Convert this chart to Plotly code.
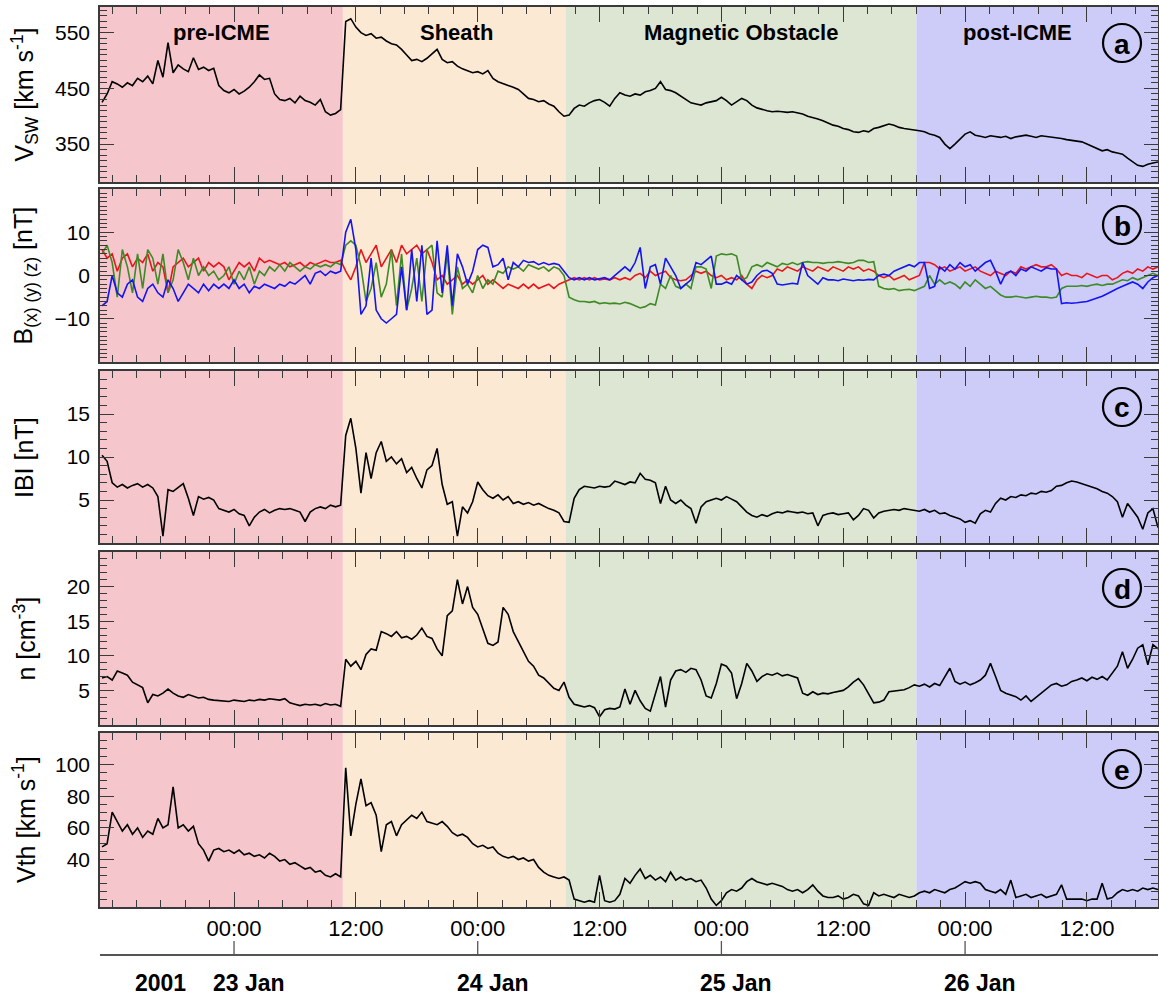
import numpy as np
import plotly.graph_objects as go

# ---------------- data (hours since 2001-01-23 00:00 UT, 30-min samples) -------------
t_start = -13.0
t_step = 0.5

vsw = [425,440,462,458,452,460,455,468,462,472,458,500,470,532,478,492,485,480,505,484,488,482,486,455,
       446,442,448,440,445,452,462,474,466,468,440,430,428,432,424,436,428,425,420,430,408,402,405,412,
       570,575,560,550,545,548,540,542,535,530,528,520,510,500,502,498,504,512,520,502,496,498,490,485,
       482,478,480,476,482,468,462,458,455,452,448,440,432,430,426,428,422,418,408,400,402,414,420,418,
       424,428,430,425,418,432,442,438,436,440,438,444,446,450,462,448,446,442,436,430,424,422,420,424,
       426,428,434,428,420,426,432,428,420,415,412,410,408,409,408,407,408,406,404,400,398,395,392,388,
       384,382,378,376,372,371,374,372,378,380,383,386,384,380,378,377,376,374,372,368,366,362,350,342,
       350,360,368,372,366,364,362,365,363,362,364,360,363,365,366,364,362,365,364,363,362,360,358,357,
       356,354,350,346,342,338,340,336,334,332,325,318,312,310,314,316,318]

bx = [6,4,5,1,4,5,2,4,3,5,1,3,2,-4,2,3,4,2,3,4,1,3,2,3,
      2,-1,1,3,2,3,1,4,3,3.5,3,2.5,3,2,2.5,3,2,3,2.5,3,3.5,3,3,3.5,
      1,-1,2,6,3,5,7,2,4,6,3,7,5,6,7,5,6,3,-1,0,-2,-1,0,-2,
      -1,-2,-1,0,-2,-1,-2,-3,-2,-2.5,-3,-2,-3,-2,-3,-2.5,-2,-3,-2,-1.5,-1,-0.5,-1,-0.5,
      -1,-0.5,-1,-0.8,-1,-0.5,-1,-0.5,-1,0,0.5,-0.5,1,0,0.5,1,-0.5,-1,-1.2,-1,0,1,0.5,1,
      0,-0.5,0,-1,-0.5,-1,0,-2,-3,-1,0,-0.5,0,1.5,1,2,1.5,1,2,1.5,1,2,1.5,1,
      2,1.5,1,2,1.5,2,1,1.5,1,0,-0.5,0,-1,-0.5,0,-1,-0.5,0,3,3,2.5,1.5,2,1,
      1.5,2,1,1.5,2,1,0.5,0,1,0.5,0,1,0.5,2,1.5,2,2.5,2,2,2.5,1.5,0,0.5,0,
      0,-0.5,0.5,0,-0.5,0,0,-1,-0.5,0.5,1,0.5,1.5,1,2,1.5,2]

by = [5,7,3,-5,6,2,-4,5,-3,6,4,-2,5,-4,-1,6,3,-1,4,0,2,0,1,-1,
      0,2,-2,1,-1,2,-2,1,0,2,1,2.5,1,3,2,1,2,1.5,2.5,2,2.5,2,3,2.5,
      7,8,7,2,-6,-3,3,-5,-2,6,-7,5,-8,-3,4,-6,6,7,-4,-5,5,-9,2,-3,
      -2,-4,0,-3,-1,-2,1,0.5,2,1.5,2,1,2.5,2,1.5,2,1,2,1.5,0,-5,-5.6,-6,-6,
      -6.2,-6,-6.5,-6.3,-6.5,-6.4,-6.6,-6.2,-6.5,-7,-7.5,-7.2,-6.5,-6.8,-2,-3,0,-2.5,-3,-2,-3,2,2,1.5,
      -3,4.5,5,4.8,5,4.5,-1,-0.5,2,2.5,2,3,2.5,2,2.8,2.5,3,2.5,3,3.2,3,3,2.8,3,
      3,3.2,3,2.8,3,3.5,3.5,3,3.2,-2.5,-3,-3.2,-3,-3.5,-3.3,-3.2,-3.5,-3,-2.5,0,-2,-1,-2,-1.5,
      -2,-3,-1.5,-2.5,-1,-2,-3,-2.5,-3.5,-4.5,-5,-5,-4.8,-5,-5.2,-5,-4.8,-5,-5,-5.2,-5,-3,-2.5,-2.5,
      -2.5,-2.3,-2.5,-2.2,-2,-2.3,-2,-2,-1.5,-1,-1.2,-0.5,-1,-0.5,0,0.5,0]

bz = [-7,-6,0,-4,-5,-2,-1,-5,-6,-3,-2,-4,-5,-1,-3,-6,-4,-2,-3,-4,-2,-3.5,-2,-3,
      -2,-3,-1,-3,-2,-4,-2.5,-3,-2,-2.5,-3,-2,-2.5,-1.5,-2,-1,0,-2,0.5,1,0,1,0.5,1,
      10,13,6,-9,-7,4,-8,-10,-11,-10,-9,2,-8,6,-6,7,-9,-8,8,-4,7,-7,5,2,
      -2,1,6,7,6.5,2,2.5,4,-1,3,2,3.5,3,3.2,2.5,3,2.5,2.8,2.5,1,-0.5,-1,-0.5,-1,
      -0.5,-1,-0.8,-0.5,-1,0,1,2,1,3,6.5,-3,2,2.5,-2,4,2,0,-3,-2,-1,3,2.5,3.5,
      4.5,-2,-2,-1.5,-2,0,-1,-2,-1.5,0,1,1.2,0.5,-2,-2.2,-2,-1.8,-2,3,0,-1,-2,-0.5,-1,
      -1,-1.2,-0.8,-1,-1.2,-1,-1.1,-0.9,-1,0,0.3,0,1,1.5,2,2.5,2,3,3,-3,-2.5,2,1,2.5,
      1.5,3,2,2.5,1,2,3,3.5,1,-2,0.5,1,0,1.5,1,2,1.5,1,1.8,1.5,1.5,-6.5,-6.3,-6.4,
      -6.3,-6.2,-6,-5.6,-5.2,-4.8,-4.2,-3.5,-3,-2.5,-2,-1.5,-2,-3,-1.5,-0.5,0]

bmag = [10.2,9.5,7,6.5,6.8,6.4,6.7,6.9,6.5,6.8,6.4,5.4,0.8,6.2,6.0,6.5,6.9,5.2,3.2,5.4,5.1,5.3,5.0,4.0,
        3.8,3.6,3.9,3.4,3.2,2.0,3.0,3.6,3.9,3.5,3.8,4.0,3.9,4.0,3.8,3.6,2.5,3.6,4.0,4.2,4.0,4.4,4.2,4.4,
        12.5,14.5,11,5.8,10.5,7.5,10.5,11.8,9.5,10,9.2,9.8,8.2,8.8,7.5,6.4,8.5,9,11,6.8,4.5,4.8,0.8,4.2,
        3.5,4.8,7.1,6.2,5.5,5.2,5.6,5.0,5.4,4.6,4.8,4.5,4.7,4.4,4.6,4.3,4.0,3.8,3.5,2.5,2.4,5.2,6.2,6.6,
        6.5,6.4,6.6,6.5,6.6,7.2,7.0,6.8,7.1,7.0,8.1,7.4,7.3,7.0,4.6,6.6,5.0,4.6,5.0,4.4,4.0,2.3,4.2,4.8,
        5.0,5.2,5.0,5.4,5.1,4.8,4.2,3.6,3.2,3.0,3.3,3.1,3.4,3.6,3.5,3.7,3.6,3.5,3.6,3.4,3.5,2.0,3.2,3.4,
        3.5,3.3,3.4,3.5,2.7,3.2,4.0,3.8,2.9,3.5,3.7,3.8,3.9,3.8,4.0,3.9,3.8,3.7,3.9,3.6,3.8,3.4,3.5,3.2,
        3.0,2.8,2.4,2.6,2.3,3.4,3.8,3.6,4.6,5.2,5.0,5.4,5.3,5.6,5.5,5.8,5.7,6.0,5.9,6.1,6.6,6.7,7.0,7.2,
        7.1,6.9,6.7,6.5,6.3,6.0,5.8,5.4,4.8,3.0,4.6,3.8,3.0,1.6,3.5,4.0,1.8]

dens = [6.8,7.0,6.5,7.8,7.5,7.2,6.2,5.8,5.4,3.2,4.4,4.2,4.6,5.2,4.6,4.2,4.0,4.4,4.1,3.9,4.0,3.7,3.6,3.5,
        3.5,3.4,3.6,3.5,3.4,3.6,3.5,3.7,3.6,3.8,3.7,3.6,3.8,3.2,3.0,2.8,3.0,2.9,3.0,2.8,3.1,2.9,3.0,2.7,
        9.5,8.5,9.2,8.0,10.2,11.0,10.8,13.5,13.2,12.8,13.5,12.6,12.8,12.4,13.0,14.0,12.8,12.5,11.0,10.0,15.8,16.5,21.0,17.5,
        20.0,17.0,16.0,14.0,11.8,11.5,12.0,17.0,16.0,13.5,12.0,10.5,9.2,8.5,7.2,6.8,6.0,5.3,5.0,6.2,4.0,3.0,2.8,2.6,
        2.8,2.5,1.2,2.2,2.4,2.3,2.6,5.2,3.0,5.0,3.5,2.4,2.0,4.5,7.0,2.6,6.5,7.8,8.0,7.6,8.2,8.0,6.5,4.2,
        3.9,6.0,8.8,8.5,7.5,3.8,6.0,8.9,7.8,6.3,7.0,7.4,7.2,7.5,7.1,7.3,7.0,6.8,4.6,4.3,4.8,4.4,4.6,4.5,
        4.7,4.8,5.0,5.5,6.2,6.7,5.8,4.5,3.2,3.3,3.6,4.8,4.9,5.0,5.1,5.4,5.8,5.6,5.9,5.5,6.0,5.7,7.0,8.2,
        6.3,5.9,6.2,5.8,6.1,6.5,7.2,8.9,7.0,5.0,4.6,4.4,4.1,3.6,4.2,3.4,4.0,4.5,5.2,5.8,6.0,5.6,5.8,6.3,
        6.5,6.8,6.4,6.9,6.6,7.0,6.5,7.5,8.5,10.6,8.2,9.5,11.1,11.6,8.7,11.6,11.0]

vth = [48,50,70,64,58,62,56,60,54,58,56,66,60,62,86,60,62,58,61,50,46,39,46,47,
       45,46,44,46,43,44,42,43,41,44,42,39,40,37,38,36,34,35,32,33,30,29,31,29,
       98,55,75,91,74,76,68,45,62,64,55,62,65,68,66,70,64,63,62,64,61,57,55,56,
       54,50,48,49,47,48,44,42,41,42,40,41,39,40,35,32,30,29,28,29,27,15,14,13,
       14,13,30,14,13,14,18,28,25,30,34,28,30,27,29,26,32,27,29,27,28,26,27,22,
       15,11,14,19,21,20,22,26,28,26,25,24,25,24,23,21,20,21,19,21,24,20,17,16,
       16,17,15,16,18,17,12,11,19,17,18,17,16,18,17,16,17,19,20,19,21,20,19,21,
       22,24,26,25,26,25,21,20,19,21,18,27,16,17,18,16,17,18,16,17,18,24,15,15,
       15,15,14,15,15,25,15,16,19,21,20,21,20,22,21,22,21]

# interval boundaries (hours since 23 Jan 00:00)
region_names = ["pre-ICME", "Sheath", "Magnetic Obstacle", "post-ICME"]
region_bounds = [-13.2, 10.72, 32.65, 67.2, 91.0]
region_colors = ["#f5c7cc", "#fce9d3", "#dde5d3", "#cdccf9"]

tick_hours = [0, 12, 24, 36, 48, 60, 72, 84]
tick_text = ["00:00", "12:00"] * 4
day_hours = [0, 24, 48, 72]
day_labels = ["23 Jan", "24 Jan", "25 Jan", "26 Jan"]
year_label = "2001"

panel_letters = ["a", "b", "c", "d", "e"]
y_titles = ["V<sub>SW</sub> [km s<sup>-1</sup>]",
            "B<sub>(x) (y) (z)</sub> [nT]",
            "IBI [nT]",
            "n [cm<sup>-3</sup>]",
            "Vth [km s<sup>-1</sup>]"]
y_ranges = [[282, 596], [-20, 20], [0, 20], [0, 25], [10, 120]]
y_tickvals = [[350, 450, 550], [-10, 0, 10], [5, 10, 15], [5, 10, 15, 20], [40, 60, 80, 100]]
y_minor = [10, 1, 1, 1, 5]

# ---------------- layout helpers ----------------
W, H = 1159, 998
FONT = "Liberation Sans, Arial, Helvetica, sans-serif"
AX = "#3a3a3a"


def fx(p):
    return p / W


def fy(p):
    return 1 - p / H


panels_px = [(7, 182), (189, 362), (371, 543), (552, 725), (733, 907)]
xdom = [fx(100), fx(1158)]
xr = [-13.2, 91.0]


def t_of(series):
    return t_start + t_step * np.arange(len(series))


fig = go.Figure()

series_sets = [
    [(vsw, "black")],
    [(bx, "#e8161c"), (by, "#3d8a26"), (bz, "#1414f2")],
    [(bmag, "black")],
    [(dens, "black")],
    [(vth, "black")],
]

for i, sets in enumerate(series_sets):
    sfx = "" if i == 0 else str(i + 1)
    for vals, col in sets:
        fig.add_trace(go.Scatter(x=t_of(vals), y=vals, mode="lines",
                                 line=dict(color=col, width=1.6),
                                 xaxis="x" + sfx, yaxis="y" + sfx,
                                 showlegend=False, hoverinfo="skip"))

layout = dict(width=W, height=H, margin=dict(l=0, r=0, t=0, b=0),
              paper_bgcolor="white", plot_bgcolor="rgba(0,0,0,0)",
              font=dict(family=FONT, color="black"), showlegend=False)

shapes = []
annotations = []

for i, (top, bot) in enumerate(panels_px):
    sfx = "" if i == 0 else str(i + 1)
    last = (i == 4)
    xa = dict(domain=xdom, range=xr, anchor="y" + sfx,
              showline=True, linecolor=AX, linewidth=1.5, mirror="ticks",
              ticks="inside", ticklen=15, tickwidth=1.3, tickcolor=AX,
              tickmode="array", tickvals=tick_hours,
              showticklabels=last,
              tickfont=dict(size=22, family=FONT, color="black"),
              minor=dict(ticks="inside", ticklen=7, tickwidth=1.1, tickcolor=AX,
                         tickmode="linear", tick0=0, dtick=2.4, showgrid=False),
              showgrid=False, zeroline=False)
    if last:
        xa["ticktext"] = tick_text
        xa["ticklabelstandoff"] = 1
    if i > 0:
        xa["matches"] = "x"
    ya = dict(domain=[fy(bot), fy(top)], range=y_ranges[i], anchor="x" + sfx,
              showline=True, linecolor=AX, linewidth=1.5, mirror="ticks",
              ticks="inside", ticklen=14, tickwidth=1.3, tickcolor=AX,
              tickmode="array", tickvals=y_tickvals[i],
              tickfont=dict(size=21, family=FONT, color="black"),
              ticklabelstandoff=4,
              minor=dict(ticks="inside", ticklen=7, tickwidth=1.0, tickcolor=AX,
                         tickmode="linear", tick0=0, dtick=y_minor[i], showgrid=False),
              showgrid=False, zeroline=False)
    layout["xaxis" + sfx] = xa
    layout["yaxis" + sfx] = ya

    # shaded intervals
    for k in range(4):
        shapes.append(dict(type="rect", xref="x" + sfx, yref="y" + sfx + " domain",
                           x0=region_bounds[k], x1=region_bounds[k + 1], y0=0, y1=1,
                           fillcolor=region_colors[k], line=dict(width=0), layer="below"))

    # panel letter in circle
    cx, cy, r = 1122, top + 36, 19
    shapes.append(dict(type="circle", xref="paper", yref="paper",
                       x0=fx(cx - r), x1=fx(cx + r), y0=fy(cy + r), y1=fy(cy - r),
                       line=dict(color="black", width=2.2), fillcolor="rgba(0,0,0,0)"))
    annotations.append(dict(text="<b>%s</b>" % panel_letters[i], xref="paper", yref="paper",
                            x=fx(cx), y=fy(cy + 1), showarrow=False,
                            xanchor="center", yanchor="middle",
                            font=dict(size=28, family=FONT, color="black")))

    # y-axis title
    annotations.append(dict(text=y_titles[i], xref="paper", yref="paper",
                            x=fx(24), y=fy((top + bot) / 2), showarrow=False,
                            textangle=-90, xanchor="center", yanchor="middle",
                            font=dict(size=25, family=FONT, color="black")))

# interval labels (top panel)
label_x = [-1.2, 21.9, 49.9, 77.2]
for name, lx in zip(region_names, label_x):
    annotations.append(dict(text="<b>%s</b>" % name, xref="x", yref="paper",
                            x=lx, y=fy(33), showarrow=False,
                            xanchor="center", yanchor="middle",
                            font=dict(size=22, family=FONT, color="black")))

# bottom date axis
line_y = 955
shapes.append(dict(type="line", xref="x5", yref="paper", x0=xr[0], x1=xr[1],
                   y0=fy(line_y), y1=fy(line_y), line=dict(color="#555555", width=2)))
for dh, dl in zip(day_hours, day_labels):
    shapes.append(dict(type="line", xref="x5", yref="paper", x0=dh, x1=dh,
                       y0=fy(line_y), y1=fy(line_y - 14), line=dict(color="#555555", width=1.3)))
    annotations.append(dict(text="<b>%s</b>" % dl, xref="x5", yref="paper",
                            x=dh, xshift=15, y=fy(983), showarrow=False,
                            xanchor="center", yanchor="middle",
                            font=dict(size=23, family=FONT, color="black")))
annotations.append(dict(text="<b>%s</b>" % year_label, xref="paper", yref="paper",
                        x=fx(160), y=fy(983), showarrow=False,
                        xanchor="center", yanchor="middle",
                        font=dict(size=23, family=FONT, color="black")))

layout["shapes"] = shapes
layout["annotations"] = annotations
fig.update_layout(**layout)

fig.write_html("out.html")
